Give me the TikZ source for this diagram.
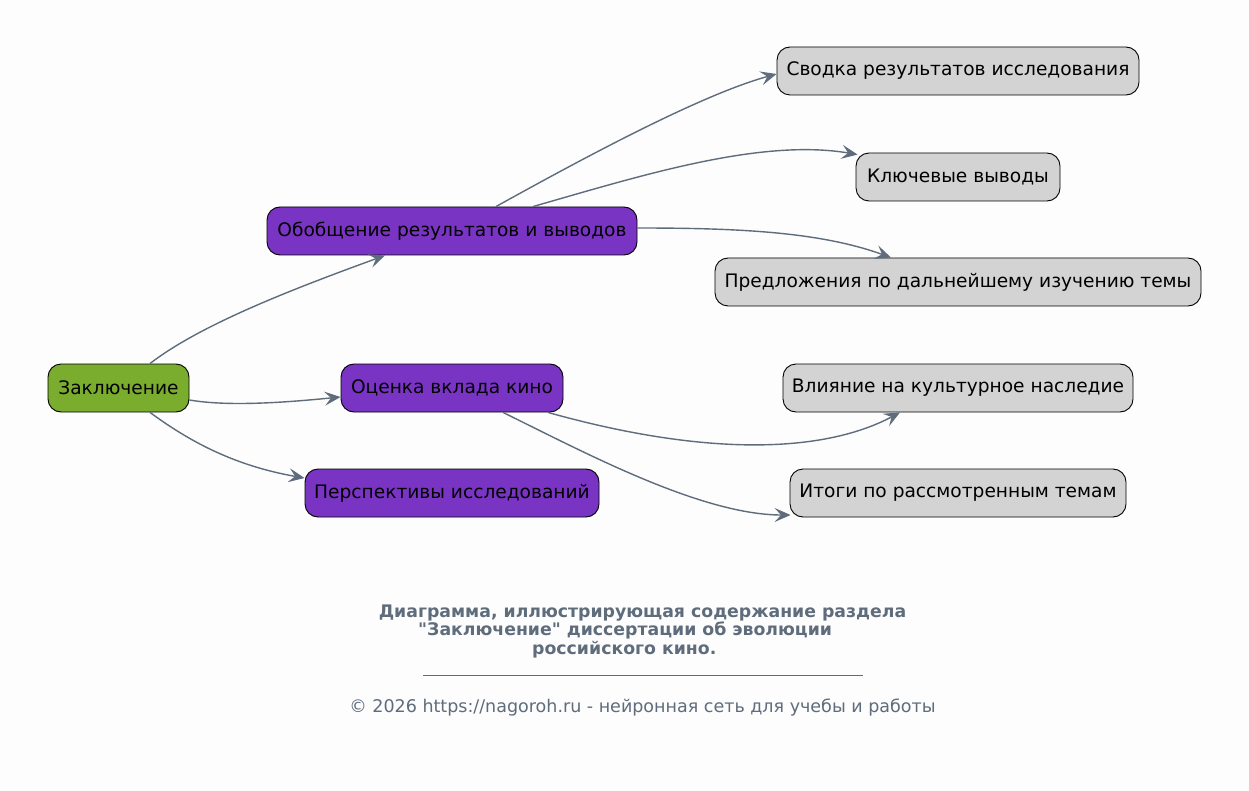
\documentclass[tikz,border=0pt]{standalone}
\usepackage{fontspec}
\setmainfont{DejaVu Sans}[Ligatures=TeXOff]
\usetikzlibrary{arrows.meta,positioning}
\definecolor{edgec}{RGB}{94,108,124}
\definecolor{greenc}{RGB}{122,172,46}
\definecolor{purplec}{RGB}{121,52,196}
\definecolor{grayc}{RGB}{211,211,211}
\definecolor{bgc}{RGB}{253,253,253}
\tikzset{
  box/.style={draw=black, line width=0.9pt, rounded corners=13pt, minimum height=48pt, inner sep=0pt, font=\fontsize{18.6}{20}\selectfont, text=black},
  root/.style={box, fill=greenc},
  mid/.style={box, fill=purplec},
  leaf/.style={box, fill=grayc},
  conn/.style={draw=edgec, line width=1.4pt, -{Stealth[length=16pt,width=14pt,inset=6.5pt]}},
  captext/.style={text=edgec, inner sep=0pt, font=\fontsize{17.3}{18.5}\selectfont\bfseries},
}
\begin{document}
\begin{tikzpicture}[x=1pt,y=-1pt]
\fill[bgc] (0,0) rectangle (1249,791);
\useasboundingbox (0,0) rectangle (1249,791);
\node[root, minimum width=141pt] (z) at (118.5,388) {Заключение};
\node[mid, minimum width=370pt] (ob) at (452,231) {Обобщение результатов и выводов};
\node[mid, minimum width=222pt] (oc) at (452,388) {Оценка вклада кино};
\node[mid, minimum width=294pt] (pe) at (452,493) {Перспективы исследований};
\node[leaf, minimum width=362pt] (sv) at (958,71) {Сводка результатов исследования};
\node[leaf, minimum width=204pt] (kl) at (958,177) {Ключевые выводы};
\node[leaf, minimum width=486pt] (pr) at (958,282) {Предложения по дальнейшему изучению темы};
\node[leaf, minimum width=350pt] (vl) at (958,388) {Влияние на культурное наследие};
\node[leaf, minimum width=336pt] (it) at (958,493) {Итоги по рассмотренным темам};

\draw[conn] ([xshift=31.5pt]z.north) .. controls (200,325) and (290,290) .. ([xshift=-67pt]ob.south);
\draw[conn] ([yshift=-12pt]z.east) .. controls (230,407) and (290,402) .. ([yshift=-9pt]oc.west);
\draw[conn] ([xshift=31.5pt]z.south) .. controls (185,438) and (230,465) .. ([yshift=15pt]pe.west);
\draw[conn] ([xshift=44pt]ob.north) .. controls (580,160) and (700,95) .. ([yshift=-3pt]sv.west);
\draw[conn] ([xshift=81pt]ob.north) .. controls (640,176) and (760,138) .. ([xshift=2pt,yshift=-2pt]kl.north west);
\draw[conn] ([yshift=3pt]ob.east) .. controls (740,228) and (820,232) .. ([xshift=-67pt]pr.north);
\draw[conn] ([xshift=96pt]oc.south) .. controls (700,455) and (820,455) .. ([xshift=-58pt]vl.south);
\draw[conn] ([xshift=51pt]oc.south) .. controls (580,450) and (700,515) .. ([xshift=1pt,yshift=-22pt]it.west);

\node[captext, anchor=base] (cap1) at (642.5,617) {Диаграмма, иллюстрирующая содержание раздела};
\node[captext, anchor=base west] (cap2) at (418,635.5) {"Заключение" диссертации об эволюции};
\node[captext, anchor=base west] (cap3) at (532,654) {российского кино.};
\draw[edgec, line width=0.6pt] (423,675) -- (863,675);
\node[text=edgec, inner sep=0pt, font=\fontsize{17.5}{18}\selectfont, anchor=base] (foot) at (642.5,712) {© 2026 https://nagoroh.ru - нейронная сеть для учебы и работы};
\end{tikzpicture}
\end{document}
